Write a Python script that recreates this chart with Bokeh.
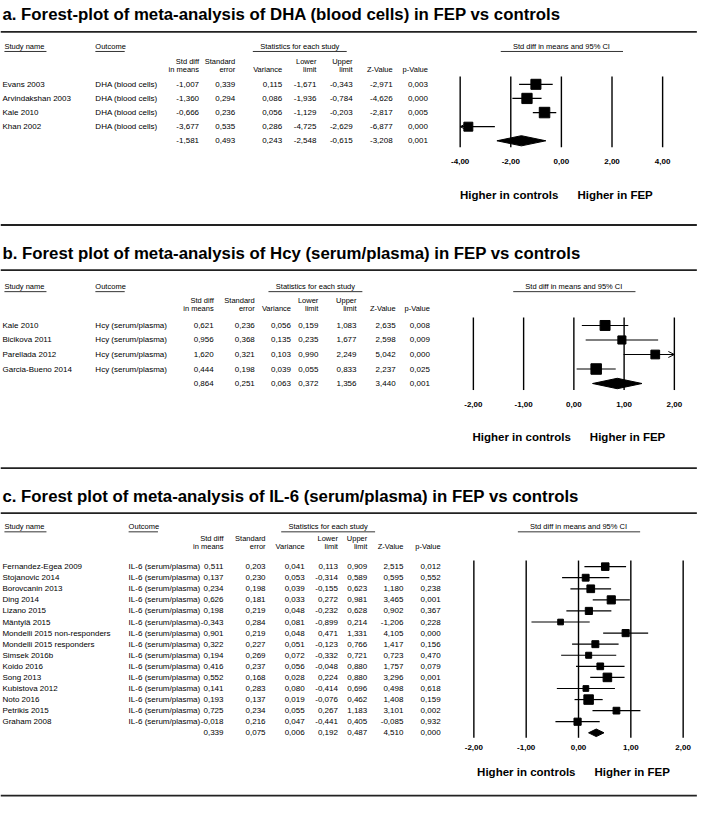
import numpy as np
from bokeh.plotting import figure
from bokeh.models import Range1d, Arrow, OpenHead, ColumnDataSource
from bokeh.core.properties import value
from bokeh.embed import file_html
from bokeh.resources import INLINE

# ---------------- data ----------------
titles = {
    "a": "a. Forest-plot of meta-analysis of DHA (blood cells) in FEP vs controls",
    "b": "b. Forest plot of meta-analysis of Hcy (serum/plasma) in FEP vs controls",
    "c": "c. Forest plot of meta-analysis of IL-6 (serum/plasma) in FEP vs controls",
}
outcomes = {"a": "DHA (blood cells)", "b": "Hcy (serum/plasma)", "c": "IL-6 (serum/plasma)"}

studies_a = ["Evans 2003", "Arvindakshan 2003", "Kale 2010", "Khan 2002"]
smd_a = [-1.007, -1.360, -0.666, -3.677]
se_a = [0.339, 0.294, 0.236, 0.535]
var_a = [0.115, 0.086, 0.056, 0.286]
lo_a = [-1.671, -1.936, -1.129, -4.725]
hi_a = [-0.343, -0.784, -0.203, -2.629]
z_a = [-2.971, -4.626, -2.817, -6.877]
p_a = [0.003, 0.000, 0.005, 0.000]
sum_a = [-1.581, 0.493, 0.243, -2.548, -0.615, -3.208, 0.001]

studies_b = ["Kale 2010", "Bicikova 2011", "Parellada 2012", "Garcia-Bueno 2014"]
smd_b = [0.621, 0.956, 1.620, 0.444]
se_b = [0.236, 0.368, 0.321, 0.198]
var_b = [0.056, 0.135, 0.103, 0.039]
lo_b = [0.159, 0.235, 0.990, 0.055]
hi_b = [1.083, 1.677, 2.249, 0.833]
z_b = [2.635, 2.598, 5.042, 2.237]
p_b = [0.008, 0.009, 0.000, 0.025]
sum_b = [0.864, 0.251, 0.063, 0.372, 1.356, 3.440, 0.001]

studies_c = ["Fernandez-Egea 2009", "Stojanovic 2014", "Borovcanin 2013", "Ding 2014",
             "Lizano 2015", "Mäntylä 2015", "Mondelli 2015 non-responders",
             "Mondelli 2015 responders", "Simsek 2016b", "Koido 2016", "Song 2013",
             "Kubistova 2012", "Noto 2016", "Petrikis 2015", "Graham 2008"]
smd_c = [0.511, 0.137, 0.234, 0.626, 0.198, -0.343, 0.901, 0.322, 0.194, 0.416, 0.552, 0.141, 0.193, 0.725, -0.018]
se_c = [0.203, 0.230, 0.198, 0.181, 0.219, 0.284, 0.219, 0.227, 0.269, 0.237, 0.168, 0.283, 0.137, 0.234, 0.216]
var_c = [0.041, 0.053, 0.039, 0.033, 0.048, 0.081, 0.048, 0.051, 0.072, 0.056, 0.028, 0.080, 0.019, 0.055, 0.047]
lo_c = [0.113, -0.314, -0.155, 0.272, -0.232, -0.899, 0.471, -0.123, -0.332, -0.048, 0.224, -0.414, -0.076, 0.267, -0.441]
hi_c = [0.909, 0.589, 0.623, 0.981, 0.628, 0.214, 1.331, 0.766, 0.721, 0.880, 0.880, 0.696, 0.462, 1.183, 0.405]
z_c = [2.515, 0.595, 1.180, 3.465, 0.902, -1.206, 4.105, 1.417, 0.723, 1.757, 3.296, 0.498, 1.408, 3.101, -0.085]
p_c = [0.012, 0.552, 0.238, 0.001, 0.367, 0.228, 0.000, 0.156, 0.470, 0.079, 0.001, 0.618, 0.159, 0.002, 0.932]
sum_c = [0.339, 0.075, 0.006, 0.192, 0.487, 4.510, 0.000]

col_head1 = ["Std diff", "Standard", "", "Lower", "Upper", "", ""]
col_head2 = ["in means", "error", "Variance", "limit", "limit", "Z-Value", "p-Value"]
ticks = {"a": [-4, -2, 0, 2, 4], "b": [-2, -1, 0, 1, 2], "c": [-2, -1, 0, 1, 2]}
lab_left, lab_right = "Higher in controls", "Higher in FEP"
hdr_study, hdr_outcome, hdr_stats, hdr_ci = "Study name", "Outcome", "Statistics for each study", "Std diff in means and 95% CI"

data = {
    "a": (studies_a, smd_a, se_a, var_a, lo_a, hi_a, z_a, p_a, sum_a),
    "b": (studies_b, smd_b, se_b, var_b, lo_b, hi_b, z_b, p_b, sum_b),
    "c": (studies_c, smd_c, se_c, var_c, lo_c, hi_c, z_c, p_c, sum_c),
}

# ---------------- layout (image pixel frame 728 x 813) ----------------
IMG_W, IMG_H = 728, 813
LAY = {
    "a": dict(title_y=14, rule_top=32, hdr_y=47, ch1=62, ch2=70, row0=85.5, dy=14.4, tick_y=164,
              higher_y=198, rule_bot=229, zero=573.5, ppu=25.875, box=10.5, dh=0.36,
              out_x=97, cols=[203, 240, 288, 323, 360, 401, 437], stats_c=306, out_ul=30),
    "b": dict(title_y=258, rule_top=275, hdr_y=292, ch1=306, ch2=314, row0=331.5, dy=14.8, tick_y=412,
              higher_y=445, rule_bot=477, zero=586.25, ppu=51.375, box=10.5, dh=0.36,
              out_x=97, cols=[218, 260, 297, 325, 364, 404, 439], stats_c=322, out_ul=30),
    "c": dict(title_y=506, rule_top=523, hdr_y=537, ch1=549, ch2=557, row0=577.5, dy=11.3, tick_y=762,
              higher_y=787, rule_bot=811, zero=591, ppu=53.5, box=9.5, dh=0.34,
              out_x=131, cols=[228, 271, 311, 345, 375, 412, 450], stats_c=335, out_ul=30),
}

FONT = "Liberation Sans"

p = figure(width=712, height=797, x_range=Range1d(0, IMG_W), y_range=Range1d(IMG_H, 0),
           output_backend="svg", toolbar_location=None, min_border=0)
p.axis.visible = False
p.grid.visible = False
p.outline_line_color = None


def txt(x, y, s, size, align="left", bold=False, font=FONT, xr="default", yr="default", xoff=0):
    src = ColumnDataSource(dict(x=list(x), y=list(y), t=list(s)))
    p.text(x="x", y="y", text="t", source=src, text_font=value(font), text_font_size=f"{size}px",
           text_font_style="bold" if bold else "normal", text_align=align, text_baseline="middle",
           text_color="black", x_range_name=xr, y_range_name=yr, x_offset=xoff)


def hline(x0, x1, y, w=1.0, color="black"):
    p.segment(x0=[x0], x1=[x1], y0=[y], y1=[y], line_width=w, line_color=color)


def fmt(v):
    return f"{v:.3f}".replace(".", ",")


def re_weights(var, y):
    v = np.array(var); y = np.array(y)
    w = 1 / v
    ybar = (w * y).sum() / w.sum()
    Q = (w * (y - ybar) ** 2).sum()
    C = w.sum() - (w ** 2).sum() / w.sum()
    tau2 = max(0.0, (Q - (len(y) - 1)) / C)
    return 1 / (v + tau2)


for key in ["a", "b", "c"]:
    L = LAY[key]
    studies, smd, se, var, lo, hi, z, pv, sm = data[key]
    n = len(studies)
    tk = ticks[key]
    xmin, xmax = min(tk), max(tk)
    p.extra_x_ranges[key] = Range1d((0 - L["zero"]) / L["ppu"], (IMG_W - L["zero"]) / L["ppu"])
    p.extra_y_ranges[key] = Range1d((IMG_H - L["row0"]) / L["dy"], (0 - L["row0"]) / L["dy"])

    # title and rules
    txt([2], [L["title_y"]], [titles[key]], 16.8, bold=True)
    hline(0, 712, L["rule_top"], 1.8, "#222222")
    hline(0, 712, L["rule_bot"], 1.8, "#222222")

    # header row
    fs_h = 7.5
    txt([4], [L["hdr_y"]], [hdr_study], fs_h)
    hline(4, 47, L["hdr_y"] + 5, 0.8)
    txt([L["out_x"]], [L["hdr_y"]], [hdr_outcome], fs_h)
    hline(L["out_x"], L["out_x"] + L["out_ul"], L["hdr_y"] + 5, 0.8)
    txt([L["stats_c"]], [L["hdr_y"]], [hdr_stats], fs_h, align="center")
    hline(L["stats_c"] - 48, L["stats_c"] + 48, L["hdr_y"] + 5, 0.8)
    txt([0], [L["hdr_y"]], [hdr_ci], fs_h, align="center", xr=key)
    hline(L["zero"] - 62, L["zero"] + 63, L["hdr_y"] + 5, 0.8)
    txt(L["cols"], [L["ch1"]] * 7, col_head1, fs_h, align="right")
    txt(L["cols"], [L["ch2"]] * 7, col_head2, fs_h, align="right")

    # table rows
    rows = list(range(n))
    fs = 8
    txt([2] * n, rows, studies, fs, yr=key)
    txt([L["out_x"]] * n, rows, [outcomes[key]] * n, fs, yr=key)
    for ci, col in enumerate([smd, se, var, lo, hi, z, pv]):
        txt([L["cols"][ci]] * n, rows, [fmt(v) for v in col], fs, align="right", yr=key)
    txt(L["cols"], [n] * 7, [fmt(v) for v in sm], fs, align="right", yr=key)

    # forest plot: vertical reference lines
    p.segment(x0=tk, x1=tk, y0=[-0.55] * len(tk), y1=[n + 0.45] * len(tk), line_width=1.4,
              line_color="black", x_range_name=key, y_range_name=key)
    txt(tk, [L["tick_y"]] * len(tk), [f"{t:.2f}".replace(".", ",") for t in tk], 8, align="center",
        bold=True, xr=key)
    txt([0], [L["higher_y"]], [lab_left], 11.5, align="right", bold=True, xr=key, xoff=-3)
    txt([0], [L["higher_y"]], [lab_right], 11.5, align="left", bold=True, xr=key, xoff=16)

    # CI lines
    seg_x0, seg_x1, seg_y = [], [], []
    for i in range(n):
        if lo[i] < xmin:
            p.add_layout(Arrow(end=OpenHead(size=6, line_width=1), x_start=hi[i], y_start=i, x_end=xmin,
                               y_end=i, line_width=1.2, x_range_name=key, y_range_name=key))
        elif hi[i] > xmax:
            p.add_layout(Arrow(end=OpenHead(size=6, line_width=1), x_start=lo[i], y_start=i, x_end=xmax,
                               y_end=i, line_width=1.2, x_range_name=key, y_range_name=key))
        else:
            seg_x0.append(lo[i]); seg_x1.append(hi[i]); seg_y.append(i)
    p.segment(x0=seg_x0, x1=seg_x1, y0=seg_y, y1=seg_y, line_width=1.2, line_color="black",
              x_range_name=key, y_range_name=key)

    # boxes sized by random-effects weight
    w = re_weights(var, smd)
    sizes = list(L["box"] * (w / w.max()) ** 0.7)
    p.scatter(x=smd, y=rows, size=sizes, marker="square", fill_color="black", line_color="black",
              x_range_name=key, y_range_name=key)

    # summary diamond
    d_est, d_lo, d_hi = sm[0], sm[3], sm[4]
    h = L["dh"]
    p.patch(x=[d_lo, d_est, d_hi, d_est], y=[n, n - h, n, n + h], fill_color="black", line_color="black",
            x_range_name=key, y_range_name=key)

open("out.html", "w").write(file_html(p, INLINE))
